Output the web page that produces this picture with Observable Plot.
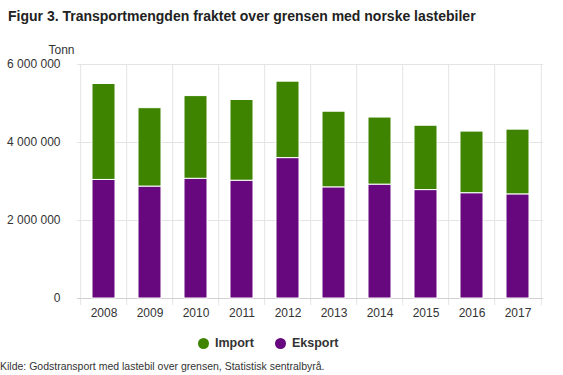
<!DOCTYPE html>
<html><head><meta charset="utf-8">
<script src="https://cdn.jsdelivr.net/npm/d3@7"></script>
<script src="https://cdn.jsdelivr.net/npm/@observablehq/plot@0.6"></script>
<style>
body{margin:0;background:#fff;font-family:"Liberation Sans",Arial,Helvetica,sans-serif;width:563px;height:375px;position:relative;overflow:hidden}
#title{position:absolute;left:8px;top:8px;font-size:14px;font-weight:bold;color:#222;white-space:nowrap}
#chart{position:absolute;left:0;top:30px}
#legend{position:absolute;top:336px;left:198px;font-size:12.5px;font-weight:bold;color:#333;display:flex;align-items:center}
#legend span.dot{display:inline-block;width:11px;height:11px;border-radius:50%;margin-right:6px}
#legend .item{display:flex;align-items:center;margin-right:21px}
#caption{position:absolute;left:0;top:360px;font-size:10.5px;color:#333;white-space:nowrap}
</style></head>
<body>
<div id="title">Figur 3. Transportmengden fraktet over grensen med norske lastebiler</div>
<div id="chart"></div>
<div id="legend"></div>
<div id="caption">Kilde: Godstransport med lastebil over grensen, Statistisk sentralbyrå.</div>
<script>
const years = ["2008","2009","2010","2011","2012","2013","2014","2015","2016","2017"];
const eksport = [3040000, 2870000, 3070000, 3020000, 3600000, 2850000, 2920000, 2780000, 2700000, 2670000];
const importVals = [2460000, 2010000, 2120000, 2070000, 1960000, 1940000, 1720000, 1650000, 1580000, 1660000];
const seriesNames = ["Eksport", "Import"];
const seriesColors = ["#67087f", "#3e8400"];
const yTicks = [0, 2000000, 4000000, 6000000];

const data = [];
years.forEach((y, i) => {
  data.push({year: y, series: "Eksport", value: eksport[i]});
  data.push({year: y, series: "Import", value: importVals[i]});
});

const width = 563, height = 295;
const mL = 77, mR = 20;
const step = (width - mL - mR) / years.length;
const fmt = d => d3.format(",")(d).replace(/,/g, " ");

const chart = Plot.plot({
  width, height,
  marginLeft: mL, marginRight: mR, marginTop: 34, marginBottom: 27,
  style: {fontFamily: "'Liberation Sans', Arial, sans-serif", fontSize: "12px", color: "#333", background: "#fff"},
  x: {domain: years, paddingInner: 0.5, paddingOuter: 0.25, label: null, axis: null},
  y: {domain: [0, 6000000], label: null, axis: null},
  color: {domain: seriesNames, range: seriesColors},
  marks: [
    Plot.gridY(yTicks, {stroke: "#e4e4e4", strokeOpacity: 1}),
    Plot.ruleX(years, {x: d => d, dx: -step / 2, stroke: "#e4e4e4", insetBottom: -7}),
    Plot.ruleX([years[years.length - 1]], {x: d => d, dx: step / 2, stroke: "#e4e4e4", insetBottom: -7}),
    Plot.ruleY([0], {stroke: "#d0d0d0"}),
    Plot.barY(data, Plot.stackY({x: "year", y: "value", fill: "series", order: seriesNames, stroke: "#fff", strokeWidth: 1})),
    Plot.axisY(yTicks, {tickSize: 0, tickPadding: 17, tickFormat: fmt, fontSize: 12, fill: "#333", label: null}),
    Plot.axisX({tickSize: 0, tickPadding: 10, fontSize: 12, fill: "#333", label: null}),
    Plot.text(["Tonn"], {frameAnchor: "top-left", dx: -29, dy: -19, textAnchor: "start", fontSize: 12, fill: "#333"})
  ]
});
document.getElementById("chart").appendChild(chart);

const legend = document.getElementById("legend");
[["Import", seriesColors[1]], ["Eksport", seriesColors[0]]].forEach(([name, col]) => {
  const it = document.createElement("div");
  it.className = "item";
  it.innerHTML = `<span class="dot" style="background:${col}"></span>${name}`;
  legend.appendChild(it);
});
</script>
</body></html>
